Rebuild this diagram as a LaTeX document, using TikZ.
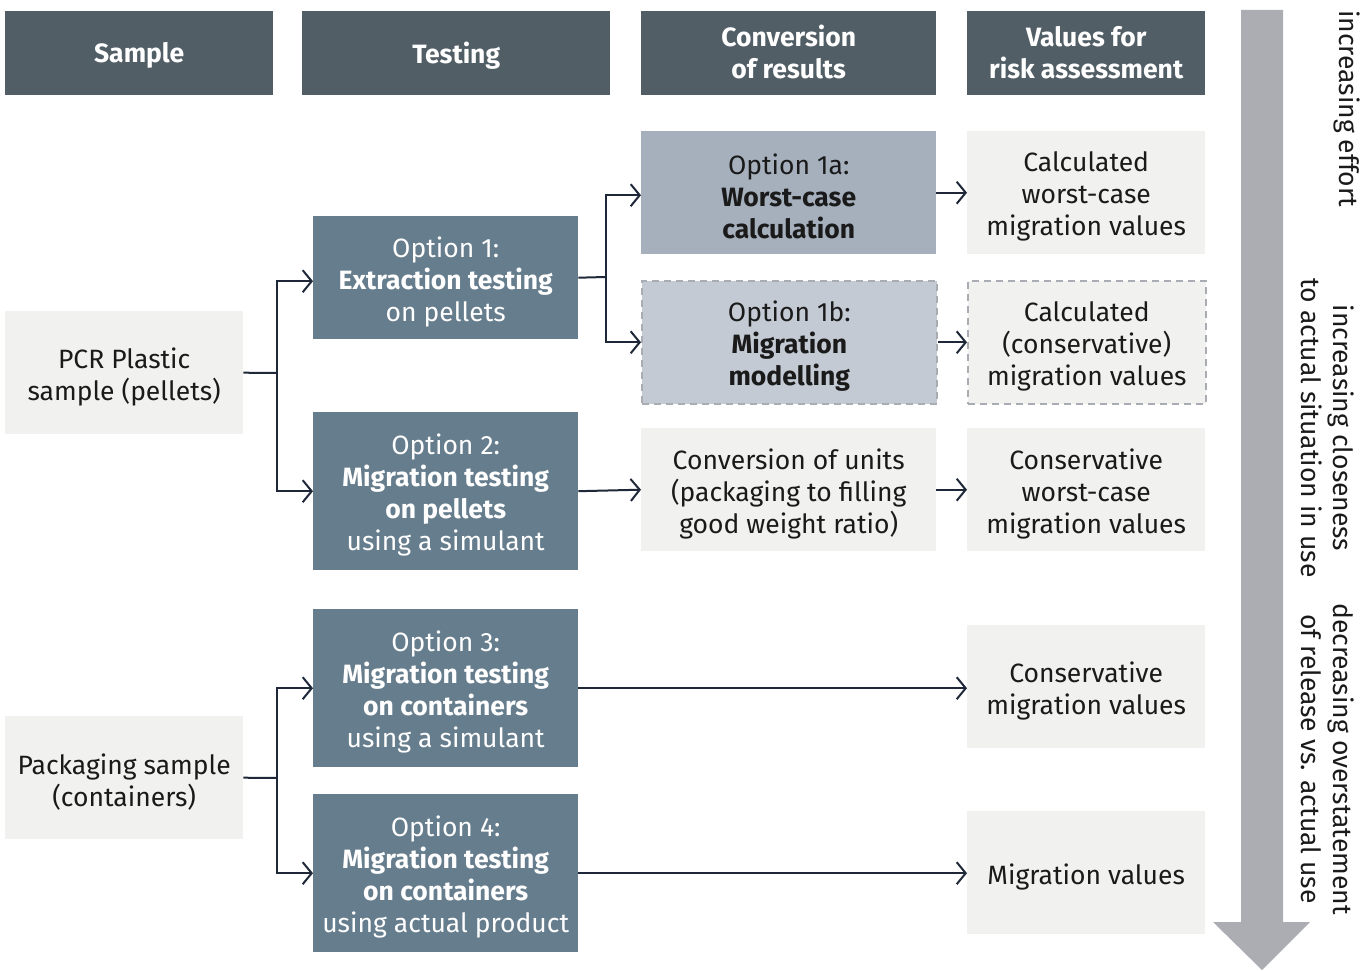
\documentclass[tikz,border=0pt]{standalone}
\usepackage{fontspec}
\setmainfont{Fira Sans}
\usetikzlibrary{arrows.meta}
\definecolor{hdrcol}{HTML}{525E66}
\definecolor{optcol}{HTML}{667D8D}
\definecolor{pale}{HTML}{A5B0BC}
\definecolor{paler}{HTML}{C3CAD3}
\definecolor{lightbg}{HTML}{F1F1EF}
\definecolor{bigarrow}{HTML}{ABADB2}
\definecolor{linecol}{HTML}{1E2838}
\definecolor{dashcol}{HTML}{A9ADB3}
\definecolor{darktext}{HTML}{1A1A1A}
\tikzset{
  panel/.style={inner sep=0pt},
  hdr/.style={panel, fill=hdrcol},
  optbox/.style={panel, fill=optcol},
  calcbox/.style={panel, fill=pale},
  modelbox/.style={panel, fill=paler, draw=dashcol, line width=1.6pt, dash pattern=on 7pt off 5pt},
  lightbox/.style={panel, fill=lightbg},
  dashlight/.style={lightbox, draw=dashcol, line width=1.6pt, dash pattern=on 7pt off 5pt},
  txt/.style={inner sep=0pt, align=center, font=\fontsize{26.5}{32}\selectfont},
  hdrtxt/.style={txt, text=white, font=\fontsize{26.5}{32}\selectfont\bfseries, yshift=1pt},
  hdrone/.style={txt, text=white, font=\fontsize{26.5}{32}\selectfont\bfseries, yshift=-2pt},
  lighttxt/.style={txt, text=white, yshift=-4pt},
  darktxt/.style={txt, text=darktext, yshift=-4pt},
  conn/.style={draw=linecol, line width=2pt, -{Straight Barb[length=9pt,width=22pt,line width=2pt]}},
  plain/.style={draw=linecol, line width=2pt},
  side/.style={rotate=-90, inner sep=0pt, align=center, text=darktext, font=\fontsize{26.5}{32}\selectfont}
}
% box from its top-left corner (width, height in px) with its text on top
\newcommand{\pbox}[7]{%
  \node[#1, minimum width=#5, minimum height=#6, anchor=north west] (#3) at #4 {};
  \node[#2] (#3-t) at (#3.center) {#7};}
\begin{document}
\begin{tikzpicture}[x=1pt,y=-1pt]
\useasboundingbox (0,0) rectangle (1371,971);

% big downward arrow
\fill[bigarrow] (1241,10) -- (1283,10) -- (1283,922) -- (1310,922) -- (1262,970) -- (1213,922) -- (1241,922) -- cycle;

% column headers
\pbox{hdr}{hdrone}{hsample}{(5,11)}{268pt}{84pt}{Sample}
\pbox{hdr}{hdrone}{htesting}{(302,11)}{308pt}{84pt}{Testing}
\pbox{hdr}{hdrtxt}{hconv}{(641,11)}{295pt}{84pt}{Conversion\\of results}
\pbox{hdr}{hdrtxt}{hvalues}{(967,11)}{238pt}{84pt}{Values for\\risk assessment}

% samples
\pbox{lightbox}{darktxt}{pcr}{(5,311)}{238pt}{123pt}{PCR Plastic\\sample (pellets)}
\pbox{lightbox}{darktxt}{pack}{(5,716)}{238pt}{123pt}{Packaging sample\\(containers)}

% testing options
\pbox{optbox}{lighttxt}{opt1}{(313,216)}{265pt}{123pt}{Option 1:\\\textbf{Extraction testing}\\on pellets}
\pbox{optbox}{lighttxt}{opt2}{(313,412)}{265pt}{158pt}{Option 2:\\\textbf{Migration testing}\\\textbf{on pellets}\\using a simulant}
\pbox{optbox}{lighttxt}{opt3}{(313,609)}{265pt}{158pt}{Option 3:\\\textbf{Migration testing}\\\textbf{on containers}\\using a simulant}
\pbox{optbox}{lighttxt}{opt4}{(313,794)}{265pt}{158pt}{Option 4:\\\textbf{Migration testing}\\\textbf{on containers}\\using actual product}

% conversion of results
\pbox{calcbox}{darktxt}{opt1a}{(641,131)}{295pt}{123pt}{Option 1a:\\\textbf{Worst-case}\\\textbf{calculation}}
\pbox{modelbox}{darktxt}{opt1b}{(641,280)}{295pt}{123pt}{Option 1b:\\\textbf{Migration}\\\textbf{modelling}}
\pbox{lightbox}{darktxt}{units}{(641,428)}{295pt}{123pt}{Conversion of units\\(packaging to filling\\good weight ratio)}

% values for risk assessment
\pbox{lightbox}{darktxt}{v1}{(967,131)}{238pt}{123pt}{Calculated\\worst-case\\migration values}
\pbox{dashlight}{darktxt}{v2}{(967,280)}{238pt}{123pt}{Calculated\\(conservative)\\migration values}
\pbox{lightbox}{darktxt}{v3}{(967,428)}{238pt}{123pt}{Conservative\\worst-case\\migration values}
\pbox{lightbox}{darktxt}{v4}{(967,625)}{238pt}{123pt}{Conservative\\migration values}
\pbox{lightbox}{darktxt}{v5}{(967,811)}{238pt}{123pt}{Migration values}

% branching connectors
\coordinate (j1) at (277,373);
\coordinate (j2) at (606,277);
\coordinate (j3) at (277,778);
\draw[plain] (pcr.east) -- (j1);
\draw[conn] (j1) |- ([yshift=-3.5pt]opt1.west);
\draw[conn] (j1) |- (opt2.west);
\draw[plain] (opt1.east) -- (j2);
\draw[conn] (j2) |- ([yshift=-2.5pt]opt1a.west);
\draw[conn] (j2) |- (opt1b.west);
\draw[plain] (pack.east) -- (j3);
\draw[conn] (j3) |- (opt3.west);
\draw[conn] (j3) |- (opt4.west);

% straight connectors
\draw[conn] (opt1a.east) -- (v1.west);
\draw[conn] (opt1b.east) -- (v2.west);
\draw[conn] (opt2.east) -- (units.west);
\draw[conn] (units.east) -- (v3.west);
\draw[conn] (opt3.east) -- (opt3.east -| v4.west);
\draw[conn] (opt4.east) -- (opt4.east -| v5.west);

% labels along the big arrow
\node[side, anchor=south west] (lab1) at (1334,10) {increasing effort};
\node[side] (lab2) at (1328,428) {increasing closeness\\to actual situation in use};
\node[side] (lab3) at (1328,759) {decreasing overstatement\\of release vs. actual use};
\end{tikzpicture}
\end{document}
